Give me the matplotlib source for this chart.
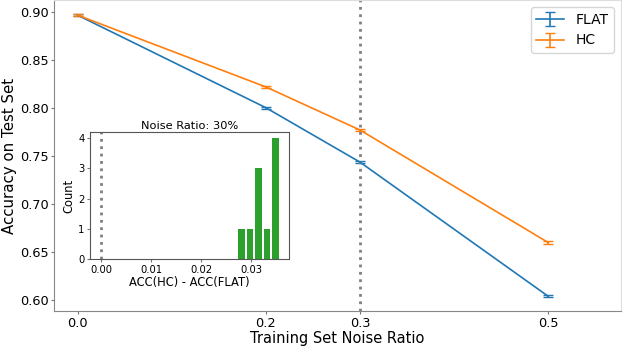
import matplotlib.pyplot as plt
import numpy as np

noise = [0.0, 0.2, 0.3, 0.5]
flat_acc = [0.8962, 0.8000, 0.7434, 0.6039]
flat_err = [0.0008, 0.0010, 0.0010, 0.0012]
hc_acc = [0.8962, 0.8216, 0.7768, 0.6598]
hc_err = [0.0008, 0.0010, 0.0010, 0.0012]

# histogram of ACC(HC) - ACC(FLAT) at 30% noise
bin_centers = [0.0281, 0.0298, 0.0315, 0.0332, 0.0349]
bin_counts = [1, 1, 3, 1, 4]
bin_width = 0.0017

fig = plt.figure(figsize=(6.22, 3.46), dpi=100)
ax = fig.add_axes([0.087, 0.101, 0.911, 0.899])

ax.errorbar(noise, flat_acc, yerr=flat_err, capsize=3.5, color='tab:blue', label='FLAT', lw=1.2)
ax.errorbar(noise, hc_acc, yerr=hc_err, capsize=3.5, color='tab:orange', label='HC', lw=1.2)
ax.axvline(0.3, color='gray', ls=':', lw=2)

ax.set_xticks(noise)
ax.set_xlim(-0.025, 0.577)
ax.set_ylim(0.5886, 0.912)
ax.set_yticks([0.60, 0.65, 0.70, 0.75, 0.80, 0.85, 0.90])
ax.set_xlabel('Training Set Noise Ratio', fontsize=10.5, labelpad=1)
ax.set_ylabel('Accuracy on Test Set', fontsize=10.8, labelpad=2)
ax.tick_params(labelsize=9.3, color='#777777', length=2.5, pad=1.5)
for s in ['left', 'bottom']:
    ax.spines[s].set_color('#888888')
for s in ['top', 'right']:
    ax.spines[s].set_color('#dddddd')
ax.legend(loc='upper right', fontsize=10)

ins = fig.add_axes([0.1447, 0.2514, 0.32, 0.367])
ins.bar(bin_centers, bin_counts, width=bin_width * 0.8, color='tab:green')
ins.axvline(0.0, color='gray', ls=':', lw=2)
ins.set_xlim(-0.0022, 0.0376)
ins.set_ylim(0, 4.2)
ins.set_xticks([0.00, 0.01, 0.02, 0.03])
ins.set_yticks([0, 1, 2, 3, 4])
ins.tick_params(labelsize=7.2, length=2.5, pad=1.5, color='#777777')
ins.set_title('Noise Ratio: 30%', fontsize=8.2, pad=2)
ins.set_xlabel('ACC(HC) - ACC(FLAT)', fontsize=8.3, labelpad=1)
ins.set_ylabel('Count', fontsize=8.3, labelpad=2)
for s in ins.spines.values():
    s.set_color('#555555')

fig.savefig('out.png', dpi=100)
